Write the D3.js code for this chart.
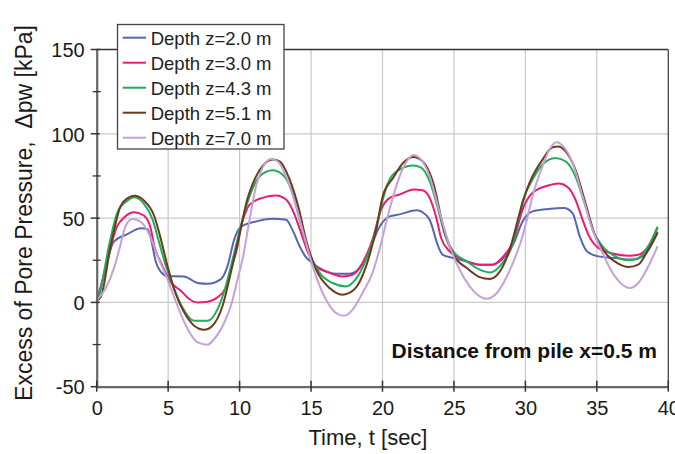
<!DOCTYPE html>
<html>
<head>
<meta charset="utf-8">
<script src="https://cdn.jsdelivr.net/npm/d3@7/dist/d3.min.js"></script>
<style>
  html, body { margin: 0; padding: 0; background: #fff; }
  svg { display: block; font-family: "Liberation Sans", Arial, sans-serif; }
</style>
</head>
<body>
<svg id="chart" width="675" height="454"></svg>
<script>
// Excess pore pressure time histories at x = 0.5 m from the pile, [t (s), Δpw (kPa)]
const depth2 = [[0,1],[0.5,16],[1.2,36],[2.15,40.5],[3.08,44],[3.55,43.5],[3.8,37.5],[4.14,24],[4.5,18],[5.0,15.5],[6.1,15.4],[7.06,11.5],[7.76,11],[8.69,13.8],[9.16,21.7],[9.63,37.5],[10.0,44],[10.5,46.5],[11.15,48],[12.3,49.6],[13.25,49],[13.7,43],[14.2,33.3],[14.6,27.3],[15.1,23.4],[15.8,19.4],[16.75,17],[17.7,17],[18.4,20.4],[19.1,31.3],[19.8,45],[20.5,51],[21.2,52.2],[22.4,54.6],[22.8,53.5],[23.3,49],[23.9,33.2],[24.2,28.3],[24.95,26.3],[25.9,24.3],[26.8,22.4],[27.7,22.4],[28.2,24.3],[29.2,35.3],[29.8,48],[30.5,54],[31.6,55.4],[32.7,56],[33.3,53],[33.8,39.2],[34.3,30.3],[35.1,27.3],[36.3,26.3],[37.5,25.4],[38.2,27.3],[38.9,35.3],[39.25,42]];
const depth3 = [[0,1],[0.16,4.9],[0.75,25.7],[1.45,45.5],[1.92,50.4],[2.62,53.4],[3.32,51.4],[3.79,43.5],[4.02,33.6],[4.49,23.7],[5.19,11.9],[5.89,6.9],[6.47,2],[7.06,0],[7.76,0.4],[8.46,3],[9.04,8.9],[9.39,19.8],[9.86,33.6],[10.1,45],[10.4,53],[10.7,58],[11.6,62],[12.55,63.4],[13.25,61],[13.8,53],[14.3,41.2],[14.8,29.3],[15.35,21.4],[16.3,17.5],[17.2,15.4],[17.9,16.4],[18.6,23.4],[19.3,37.2],[19.9,55],[20.5,62],[21.2,64],[22.2,67],[22.8,66.5],[23.3,62],[23.8,49],[24.1,38.2],[24.7,30.3],[25.65,25.4],[26.8,22.4],[27.7,22.4],[28.45,27.3],[29.2,37.2],[29.8,55],[30.5,65],[31.6,69.3],[32.3,70.5],[33.0,68],[33.5,61],[34.0,49],[34.4,40.2],[35.1,32.3],[36.1,29],[37.2,27.7],[37.9,28.3],[38.6,33.3],[39.25,44.2]];
const depth43 = [[0,1],[0.16,4],[0.86,33.6],[1.45,53.4],[2.15,60.3],[2.62,62.3],[3.32,58.3],[3.9,49.4],[4.37,35.6],[4.84,21.7],[5.42,7.9],[6.0,-3],[6.82,-10.9],[7.76,-10.9],[8.46,-4],[9.04,9.9],[9.63,29.6],[10.21,49.4],[10.7,63],[11.4,74.8],[12.3,78.4],[13.0,75.8],[13.7,65],[14.2,49.1],[14.8,31.3],[15.6,17.5],[16.5,11.5],[17.45,9.5],[18.1,13.5],[18.85,25.4],[19.55,43.2],[20.05,62],[20.5,72.9],[21.2,78.8],[22.15,81.2],[22.7,80],[23.3,71.9],[23.9,55],[24.4,39.2],[24.95,30.3],[25.9,24.3],[26.8,19.4],[27.5,17.8],[28.2,21.4],[29.2,37.2],[29.8,60],[30.5,72.9],[31.2,81.8],[32.1,85.7],[32.8,83.7],[33.5,74.8],[34.2,57],[34.8,41.2],[35.4,33.3],[36.3,27.3],[37.2,25],[37.9,26.3],[38.6,33.3],[39.25,45]];
const depth51 = [[0,1],[0.28,3],[0.98,33.6],[1.68,57.3],[2.15,61.7],[2.62,63.2],[3.32,60.3],[4.02,51.4],[4.49,37.5],[4.95,21.7],[5.54,4.9],[6.12,-5.9],[6.82,-13.8],[7.52,-16.2],[8.1,-13.8],[8.81,-2],[9.39,17.8],[10.09,44],[10.5,60],[10.9,70],[11.6,80.8],[12.3,84.7],[12.8,83.7],[13.5,72.9],[14.1,57],[14.65,37.2],[15.35,19.4],[16.3,8.5],[17.2,4.6],[18.0,7.5],[18.85,21.4],[19.55,43.2],[20.05,64],[20.75,73.9],[21.45,82.8],[22.15,86.3],[22.8,83.7],[23.55,70.9],[24.25,45.1],[24.95,28.3],[25.9,20.4],[26.8,15],[27.5,13.9],[28.1,17],[28.9,31.3],[29.6,53],[30.15,68],[30.5,74.8],[31.2,84.7],[31.9,92],[32.3,92.5],[32.8,89.7],[33.5,78.8],[34.2,59],[34.9,39.2],[35.6,29.3],[36.5,23],[37.2,21],[37.9,22.4],[38.6,31.3],[39.25,41.2]];
const depth7 = [[0,1],[0.6,8],[1.2,20],[1.6,32],[2.03,45.5],[2.5,49.4],[3.08,47.8],[3.67,40.5],[4.25,27.7],[4.95,13.8],[5.65,-2],[6.36,-15.8],[7.06,-23.7],[7.76,-25.1],[8.22,-21.7],[8.93,-11.9],[9.39,-2],[9.86,13.8],[10.2,25.4],[10.7,49],[11.15,68.9],[11.6,79.8],[12.2,85.1],[12.65,83.7],[13.25,74.8],[13.95,57],[14.65,35.3],[15.35,15.4],[16.05,1.6],[16.75,-6.3],[17.3,-7.9],[17.9,-4.4],[18.6,5.6],[19.3,17.5],[19.9,35],[20.3,49],[20.75,63],[21.2,74.8],[21.7,83.7],[22.15,87.5],[22.6,85.7],[23.3,74.8],[23.95,55],[24.7,33.3],[25.4,19.4],[26.1,9.5],[26.8,3.6],[27.3,2.2],[28.0,5.6],[28.7,15.4],[29.4,29.3],[29.8,39.2],[30.1,49],[30.5,63],[31.2,80.8],[31.75,91.7],[32.2,95],[32.65,92.5],[33.3,82.8],[34.0,63],[34.7,43.2],[35.4,29.3],[36.1,17.5],[36.8,10.5],[37.3,8.5],[37.9,11.5],[38.6,21.4],[39.25,33.3]];

const seriesNames = ["Depth z=2.0 m", "Depth z=3.0 m", "Depth z=4.3 m", "Depth z=5.1 m", "Depth z=7.0 m"];
const seriesData = [depth2, depth3, depth43, depth51, depth7];
const seriesColors = ["#5566b4", "#ec1a74", "#1fae58", "#6c3a1c", "#c6a0d6"];

const xTicks = [0, 5, 10, 15, 20, 25, 30, 35, 40];
const yTicks = [-50, 0, 50, 100, 150];
const yMinorTicks = [-25, 25, 75, 125];

const svg = d3.select("#chart");
const plot = { left: 96.7, right: 668.3, top: 49.5, bottom: 386.7 };

const x = d3.scaleLinear().domain([0, 40]).range([plot.left, plot.right]);
const y = d3.scaleLinear().domain([-50, 150]).range([plot.bottom, plot.top]);

// grid
const grid = svg.append("g");
grid.selectAll(".vg").data(xTicks.slice(1, -1)).join("line")
  .attr("x1", d => x(d)).attr("x2", d => x(d))
  .attr("y1", plot.top).attr("y2", plot.bottom)
  .attr("stroke", "#c9c9c9").attr("stroke-width", 1.2);
grid.selectAll(".hg").data(yTicks.slice(1, -1)).join("line")
  .attr("x1", plot.left).attr("x2", plot.right)
  .attr("y1", d => y(d)).attr("y2", d => y(d))
  .attr("stroke", "#c9c9c9").attr("stroke-width", 1.2);

// frame: top and right
svg.append("line").attr("x1", plot.left).attr("x2", plot.right)
  .attr("y1", plot.top).attr("y2", plot.top).attr("stroke", "#333").attr("stroke-width", 1.3);
svg.append("line").attr("x1", plot.right).attr("x2", plot.right)
  .attr("y1", plot.top).attr("y2", plot.bottom).attr("stroke", "#444").attr("stroke-width", 1.3);

// series
const line = d3.line().x(d => x(d[0])).y(d => y(d[1])).curve(d3.curveMonotoneX);
svg.append("g").selectAll("path").data(seriesData).join("path")
  .attr("d", line)
  .attr("fill", "none")
  .attr("stroke", (d, i) => seriesColors[i])
  .attr("stroke-width", 2)
  .attr("stroke-linejoin", "round");

// y axis (plain hyphen for negative labels)
const yAxis = d3.axisLeft(y).tickValues(yTicks).tickFormat(d => String(d)).tickSize(0).tickPadding(12);
const gy = svg.append("g").attr("transform", `translate(${plot.left},0)`).call(yAxis);
gy.select(".domain").attr("stroke", "#666").attr("stroke-width", 2.2);
gy.selectAll("text").attr("font-size", 20).attr("fill", "#1a1a1a")
  .attr("font-family", "'Liberation Sans', Arial, sans-serif").attr("dy", "0.36em");
svg.append("g").selectAll("line").data(yTicks).join("line")
  .attr("x1", plot.left - 6).attr("x2", plot.left + 3)
  .attr("y1", d => y(d)).attr("y2", d => y(d))
  .attr("stroke", "#333").attr("stroke-width", 1.5);
svg.append("g").selectAll("line").data(yMinorTicks).join("line")
  .attr("x1", plot.left - 4).attr("x2", plot.left + 4)
  .attr("y1", d => y(d)).attr("y2", d => y(d))
  .attr("stroke", "#333").attr("stroke-width", 1.3);

// x axis
const xAxis = d3.axisBottom(x).tickValues(xTicks).tickFormat(d => String(d)).tickSize(0).tickPadding(14);
const gx = svg.append("g").attr("transform", `translate(0,${plot.bottom})`).call(xAxis);
gx.select(".domain").attr("stroke", "#666").attr("stroke-width", 2.2);
gx.selectAll("text").attr("font-size", 20).attr("fill", "#1a1a1a")
  .attr("font-family", "'Liberation Sans', Arial, sans-serif");
svg.append("g").selectAll("line").data(xTicks).join("line")
  .attr("x1", d => x(d)).attr("x2", d => x(d))
  .attr("y1", plot.bottom - 6).attr("y2", plot.bottom + 5)
  .attr("stroke", "#333").attr("stroke-width", 1.5);

// axis titles
svg.append("text")
  .attr("x", 368).attr("y", 445)
  .attr("text-anchor", "middle")
  .attr("font-size", 22).attr("fill", "#1a1a1a")
  .text("Time, t [sec]");
svg.append("text")
  .attr("transform", "translate(32,213) rotate(-90)")
  .attr("text-anchor", "middle")
  .attr("font-size", 23).attr("fill", "#1a1a1a")
  .attr("xml:space", "preserve")
  .text("Excess of Pore Pressure,  Δpw [kPa]");

// annotation
svg.append("text")
  .attr("x", 657).attr("y", 358)
  .attr("text-anchor", "end")
  .attr("font-size", 21).attr("font-weight", "bold").attr("fill", "#111")
  .text("Distance from pile x=0.5 m");

// legend
const legend = svg.append("g");
legend.append("rect")
  .attr("x", 117.5).attr("y", 24.5).attr("width", 166.5).attr("height", 124.5)
  .attr("fill", "#fff").attr("stroke", "#444").attr("stroke-width", 1.3);
const rows = legend.selectAll("g.row").data(seriesNames).join("g")
  .attr("transform", (d, i) => `translate(0,${37.7 + i * 25})`);
rows.append("line")
  .attr("x1", 122.7).attr("x2", 146).attr("y1", 0).attr("y2", 0)
  .attr("stroke", (d, i) => seriesColors[i]).attr("stroke-width", 2);
rows.append("text")
  .attr("x", 150.7).attr("y", 7)
  .attr("font-size", 18.5).attr("fill", "#222")
  .text(d => d);
</script>
</body>
</html>
